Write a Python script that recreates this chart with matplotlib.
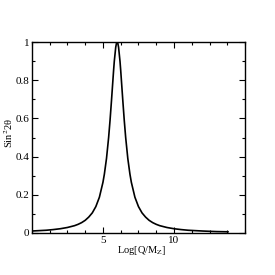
import matplotlib
matplotlib.use("Agg")
import matplotlib.pyplot as plt
from matplotlib.ticker import MultipleLocator, FixedLocator, FuncFormatter

# Curve values
log_q = [0, 0.5, 1, 1.5, 2, 2.5, 3, 3.25, 3.5, 3.75, 4, 4.25, 4.5, 4.75, 5,
         5.1, 5.25, 5.4, 5.5, 5.6, 5.75, 5.8, 5.9, 5.95, 6.0, 6.05, 6.1, 6.2,
         6.25, 6.4, 6.5, 6.6, 6.75, 6.9, 7, 7.25, 7.5, 7.75, 8, 8.25, 8.5,
         8.75, 9, 9.5, 10, 10.5, 11, 11.5, 12, 12.5, 13, 13.8]
sin2 = [0.010, 0.012, 0.014, 0.0175, 0.022, 0.0285, 0.038, 0.045, 0.054,
        0.066, 0.083, 0.105, 0.138, 0.187, 0.265, 0.308, 0.39, 0.50, 0.59,
        0.692, 0.852, 0.90, 0.973, 0.993, 1.0, 0.993, 0.973, 0.90, 0.852,
        0.692, 0.59, 0.50, 0.39, 0.308, 0.265, 0.187, 0.138, 0.105, 0.083,
        0.066, 0.054, 0.045, 0.038, 0.0285, 0.022, 0.0175, 0.014, 0.012,
        0.010, 0.0084, 0.007, 0.006]

x_major = [5, 10]
y_major = [0, 0.2, 0.4, 0.6, 0.8, 1.0]

plt.rcParams['font.family'] = ['Liberation Serif', 'DejaVu Serif']
plt.rcParams['mathtext.fontset'] = 'stix'

fig = plt.figure(figsize=(2.75, 2.75), dpi=100)
ax = fig.add_axes([0.116, 0.153, 0.775, 0.694])
ax.plot(log_q, sin2, color='black', lw=1.2)
ax.set_xlim(0, 15)
ax.set_ylim(0, 1)

ax.xaxis.set_major_locator(FixedLocator(x_major))
ax.xaxis.set_minor_locator(MultipleLocator(1.25))
ax.yaxis.set_major_locator(FixedLocator(y_major))
ax.yaxis.set_minor_locator(MultipleLocator(0.1))
ax.yaxis.set_major_formatter(FuncFormatter(lambda v, p: '0' if v == 0 else ('1' if v == 1 else f'{v:.1f}')))

ax.tick_params(which='both', direction='in', top=True, right=True,
               labelsize=8, pad=2, width=0.8, colors='black')
ax.tick_params(which='major', length=4)
ax.tick_params(which='minor', length=2.5)
for s in ax.spines.values():
    s.set_linewidth(1.0)

ax.set_xlabel(r'Log[Q/M$_{\rm Z}$]', fontsize=7.5)
ax.set_ylabel('Sin$^2$2θ', fontsize=7.5)
ax.xaxis.set_label_coords(0.516, -0.06)
ax.yaxis.set_label_coords(-0.078, 0.524)

fig.savefig('out.png', dpi=100)
